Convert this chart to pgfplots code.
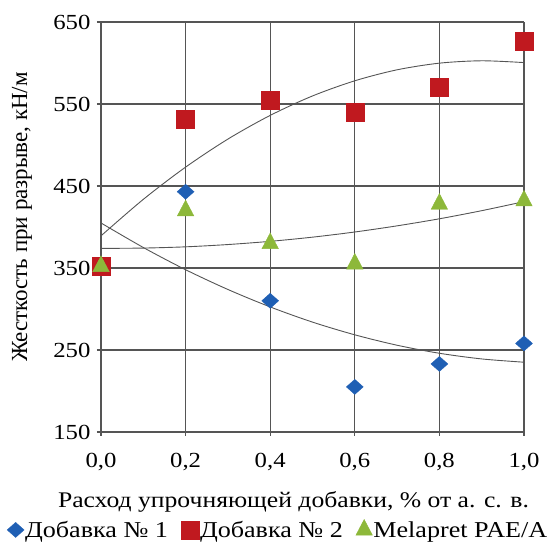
\documentclass[border=0pt]{standalone}
\usepackage{pgfplots}
\pgfplotsset{compat=1.18}
\usepackage{fontspec}
\setmainfont{Liberation Serif}[FakeStretch=1.15]
\newfontfamily\ylabfont{Liberation Serif}
\definecolor{cblue}{HTML}{1F5FB4}
\definecolor{cred}{HTML}{C0191F}
\definecolor{cgreen}{HTML}{8DB83A}
\definecolor{cgrid}{HTML}{555555}
\begin{document}
\begin{tikzpicture}
\begin{axis}[
  scale only axis,
  width=423pt, height=410pt,
  xmin=0, xmax=1, ymin=150, ymax=650,
  xtick={0,0.2,0.4,0.6,0.8,1},
  xticklabels={{0,0},{0,2},{0,4},{0,6},{0,8},{1,0}},
  ytick={150,250,350,450,550,650},
  grid=major,
  grid style={cgrid, line width=1.1pt},
  axis line style={cgrid, line width=1.1pt},
  axis x line*=bottom, axis y line*=left,
  tick style={cgrid, line width=1.1pt},
  tick align=outside,
  major tick length=4pt,
  tick label style={font=\fontsize{21.5}{24}\selectfont},
  /pgf/number format/assume math mode=true,
  xticklabel style={anchor=base, yshift=-32pt},
  yticklabel style={anchor=east, xshift=-3pt},
  xlabel={Расход упрочняющей добавки, \% от а. с. в.},
  ylabel={\ylabfont Жесткость при разрыве, кН/м},
  label style={font=\fontsize{22.3}{24}\selectfont},
  xlabel style={at={(rel axis cs:0.5,0)}, anchor=base, yshift=-76pt, xshift=-19pt, inner sep=0pt},
  ylabel style={at={(rel axis cs:0,0.5)}, anchor=center, yshift=79pt, xshift=10pt, inner sep=0pt, font=\fontsize{23}{24}\selectfont},
  clip=false,
  legend style={draw=none, at={(rel axis cs:0,0)}, anchor=south west,
    xshift=-94pt, yshift=-108pt,
    font=\fontsize{22.7}{24}\selectfont, legend columns=3,
    /tikz/every even column/.append style={column sep=12pt},
    inner sep=0pt, nodes={inner sep=1pt}},
  legend cell align=left,
  legend image code/.code={\draw[#1] plot coordinates {(0.18cm,0cm)};},
]
\coordinate (bl) at (rel axis cs:0,0);
\coordinate (tr) at (rel axis cs:1,1);
\addplot[only marks, mark=diamond*, mark size=7.5pt, color=cblue, mark options={fill=cblue, draw=cblue, xscale=1.5}]
  coordinates {(0,352) (0.2,443) (0.4,310) (0.6,205) (0.8,233) (1.0,258)};
\addlegendentry{Добавка № 1}
\addplot[only marks, mark=square*, mark size=9pt, color=cred, mark options={fill=cred, draw=cred}]
  coordinates {(0,352) (0.2,532) (0.4,555) (0.6,540) (0.8,570) (1.0,627)};
\addlegendentry{Добавка № 2}
\addplot[only marks, mark=triangle*, mark size=9.5pt, color=cgreen, mark options={fill=cgreen, draw=cgreen, yscale=1.1}]
  coordinates {(0,352) (0.2,420) (0.4,380) (0.6,355) (0.8,428) (1.0,432)};
\addlegendentry{Melapret PAE/A}
% trend lines
\addplot[forget plot, smooth, no marks, color=cgrid, line width=0.9pt]
  coordinates {(0,404.9) (0.1,375.0) (0.2,347.9) (0.3,323.8) (0.4,302.5) (0.5,284.0) (0.6,268.5) (0.7,255.8) (0.8,246.0) (0.9,239.1) (1.0,235.1)};
\addplot[forget plot, smooth, no marks, color=cgrid, line width=0.9pt]
  coordinates {(0,389.2) (0.1,433.7) (0.2,473.0) (0.3,507.2) (0.4,536.1) (0.5,559.8) (0.6,578.3) (0.7,591.7) (0.8,599.8) (0.9,602.7) (1.0,600.5)};
\addplot[forget plot, smooth, no marks, color=cgrid, line width=0.9pt]
  coordinates {(0,373.9) (0.1,374.3) (0.2,375.8) (0.3,378.6) (0.4,382.5) (0.5,387.6) (0.6,393.9) (0.7,401.4) (0.8,410.0) (0.9,419.9) (1.0,430.9)};
\end{axis}
\pgfresetboundingbox
\path ([shift={(-101pt,-112pt)}]bl) rectangle ([shift={(28pt,22pt)}]tr);
\end{tikzpicture}
\end{document}
